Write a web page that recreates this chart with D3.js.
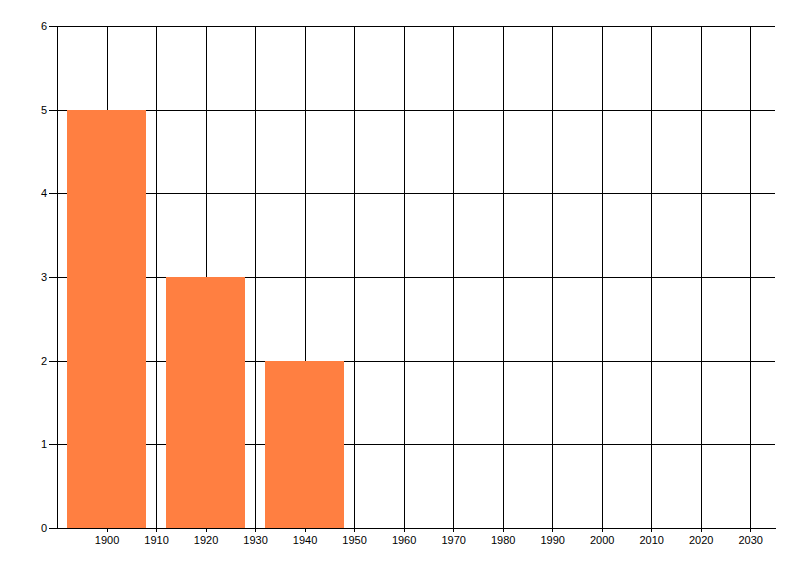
<!DOCTYPE html>
<html>
<head>
<meta charset="utf-8">
<script src="https://cdn.jsdelivr.net/npm/d3@7"></script>
<style>
  body { margin: 0; background: #fff; }
  text { font-family: "Liberation Sans", Arial, sans-serif; }
</style>
</head>
<body>
<svg id="chart" width="800" height="576"></svg>
<script>
// data
var years = [1900, 1920, 1940];
var counts = [5, 3, 2];
var xTickYears = [1900, 1910, 1920, 1930, 1940, 1950, 1960, 1970, 1980, 1990, 2000, 2010, 2020, 2030];
var yTickValues = [0, 1, 2, 3, 4, 5, 6];

// plot box (note: "top" is taken by window.top, so use other names)
var plotLeft = 57, plotRight = 775, plotTop = 26, plotBottom = 528;
var barHalf = 8; // years either side of the bar centre

var svg = d3.select("#chart");

var x = d3.scaleLinear().domain([1890, 2035]).range([plotLeft, plotRight]);
var y = d3.scaleLinear().domain([0, 6]).range([plotBottom, plotTop]);

// gridlines first, bars go over them
var grid = svg.append("g").attr("shape-rendering", "crispEdges");
grid.selectAll("line.h")
    .data(yTickValues)
    .enter()
    .append("line")
    .attr("x1", plotLeft).attr("x2", plotRight)
    .attr("y1", function(d) { return Math.round(y(d)) + 0.5; })
    .attr("y2", function(d) { return Math.round(y(d)) + 0.5; })
    .attr("stroke", "#000");
grid.selectAll("line.v")
    .data(xTickYears)
    .enter()
    .append("line")
    .attr("x1", function(d) { return Math.round(x(d)) + 0.5; })
    .attr("x2", function(d) { return Math.round(x(d)) + 0.5; })
    .attr("y1", plotTop).attr("y2", plotBottom)
    .attr("stroke", "#000");

// bars
svg.append("g")
    .selectAll("rect")
    .data(years)
    .enter()
    .append("rect")
    .attr("x", function(d) { return Math.round(x(d - barHalf)); })
    .attr("width", function(d) { return Math.round(x(d + barHalf)) - Math.round(x(d - barHalf)); })
    .attr("y", function(d, i) { return Math.round(y(counts[i])); })
    .attr("height", function(d, i) { return Math.round(y(0)) - Math.round(y(counts[i])); })
    .attr("fill", "#ff7f41");

// axes (d3 adds its own half-pixel offset)
var yAxis = d3.axisLeft(y).tickValues(yTickValues).tickFormat(d3.format("d"))
    .tickSizeInner(8).tickSizeOuter(0).tickPadding(2);
var xAxis = d3.axisBottom(x).tickValues(xTickYears).tickFormat(d3.format("d"))
    .tickSizeInner(4).tickSizeOuter(0).tickPadding(4);

var gy = svg.append("g")
    .attr("transform", "translate(" + plotLeft + ",0)")
    .attr("shape-rendering", "crispEdges")
    .call(yAxis);
var gx = svg.append("g")
    .attr("transform", "translate(0," + plotBottom + ")")
    .attr("shape-rendering", "crispEdges")
    .call(xAxis);

[gx, gy].forEach(function(g) {
    g.selectAll("path, line").attr("stroke", "#000");
    g.selectAll("text")
        .attr("fill", "#000")
        .style("font-size", "11px")
        .style("font-family", "'Liberation Sans', Arial, sans-serif");
});
</script>
</body>
</html>
